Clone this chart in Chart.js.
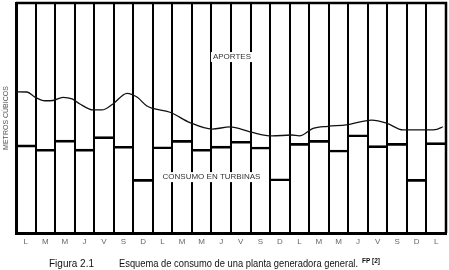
<!DOCTYPE html>
<html>
<head>
<meta charset="utf-8">
<script src="https://cdn.jsdelivr.net/npm/chart.js@4"></script>
<style>
  html, body { margin: 0; padding: 0; background: #fff; }
  #wrap { width: 449px; height: 270px; }
</style>
</head>
<body>
<div id="wrap"><canvas id="c" width="449" height="270"></canvas></div>
<script>
const days = ["L", "M", "M", "J", "V", "S", "D", "L", "M", "M", "J", "V", "S", "D",
  "L", "M", "M", "J", "V", "S", "D", "L"];
const consumo = [38.3, 36.4, 40.4, 36.5, 41.9, 37.7, 23.3, 37.5, 40.3, 36.4, 37.8,
  39.9, 37.4, 23.6, 39.0, 40.3, 36.1, 42.7, 38.0, 39.0, 23.3, 39.3];

// aportes curve, x in day units (0..22)
const aportesX = [0, 0.56, 0.97, 1.48, 1.89, 2.4, 2.87, 3.27, 3.94, 4.4, 4.96, 5.68,
  6.19, 6.7, 7.0, 7.88, 8.9, 10.03, 10.95, 11.97, 13.1, 14.1, 14.5, 15.2, 15.96,
  16.9, 18.2, 18.98, 19.8, 21.03, 21.54, 21.85];
const aportesY = [61.4, 61.3, 59.1, 57.5, 57.6, 59.0, 58.3, 56.1, 53.5, 53.5, 56.1,
  60.7, 59.1, 55.2, 54.2, 52.5, 48.0, 45.2, 46.1, 44.0, 42.2, 42.6, 42.2, 45.5,
  46.4, 47.0, 49.1, 47.7, 44.8, 44.8, 45.1, 46.2];

const aportes = aportesX.map((x, i) => ({ x: x, y: aportesY[i] }));

const frame = {
  id: "frame",
  afterDraw(chart) {
    const { ctx, chartArea: a, scales } = chart;
    ctx.save();
    // top and right border of the plot
    ctx.strokeStyle = "#000";
    ctx.lineWidth = 2.5;
    ctx.beginPath();
    ctx.moveTo(a.left, a.top);
    ctx.lineTo(a.right, a.top);
    ctx.lineTo(a.right, a.bottom);
    ctx.stroke();

    // labels with white box
    const label = (text, xv, yv, font) => {
      ctx.font = font;
      const w = ctx.measureText(text).width;
      const px = scales.xl.getPixelForValue(xv);
      const py = scales.y.getPixelForValue(yv);
      ctx.fillStyle = "#fff";
      ctx.fillRect(px - w / 2 - 2, py - 5, w + 4, 10);
      ctx.fillStyle = "#333";
      ctx.textAlign = "center";
      ctx.textBaseline = "middle";
      ctx.fillText(text, px, py);
    };
    label("APORTES", 11.05, 76.5, "8px 'Liberation Sans'");
    label("CONSUMO EN TURBINAS", 10.0, 24.3, "8px 'Liberation Sans'");

    // caption, squeezed to the widths of the original
    const squeeze = (text, x, y, w, font) => {
      ctx.font = font;
      const sx = w / ctx.measureText(text).width;
      ctx.save();
      ctx.translate(x, y);
      ctx.scale(sx, 1);
      ctx.fillText(text, 0, 0);
      ctx.restore();
    };
    ctx.fillStyle = "#111";
    ctx.textAlign = "left";
    ctx.textBaseline = "alphabetic";
    squeeze("Figura 2.1", 49, 267, 45, "10.5px 'Liberation Sans'");
    squeeze("Esquema de consumo de una planta generadora general.", 119, 267, 239, "10.5px 'Liberation Sans'");
    squeeze("FP [2]", 362, 263, 18, "bold 7px 'Liberation Sans'");
    ctx.restore();
  }
};

new Chart(document.getElementById("c").getContext("2d"), {
  type: "bar",
  data: {
    labels: days,
    datasets: [
      {
        type: "line",
        data: aportes,
        xAxisID: "xl",
        borderColor: "#111",
        borderWidth: 1.3,
        pointRadius: 0,
        cubicInterpolationMode: "monotone",
        fill: false,
      },
      {
        data: consumo,
        xAxisID: "x",
        backgroundColor: "rgba(255,255,255,0)",
        borderColor: "#000",
        borderWidth: { top: 2, left: 0, right: 0, bottom: 0 },
        borderSkipped: false,
        grouped: false,
        barPercentage: 1,
        categoryPercentage: 1,
      },
    ],
  },
  options: {
    responsive: false,
    animation: false,
    layout: { padding: { left: 2, top: 3, right: 3, bottom: 20 } },
    plugins: { legend: { display: false }, tooltip: { enabled: false } },
    scales: {
      x: {
        type: "category",
        offset: true,
        grid: { offset: true, color: "#000", lineWidth: 2, drawTicks: false },
        border: { display: true, color: "#000", width: 3 },
        ticks: {
          color: "#666",
          font: { size: 8, family: "'Liberation Sans'" },
          padding: 4,
          maxRotation: 0,
          autoSkip: false,
        },
        afterFit: (s) => { s.height = 17; },
      },
      xl: { type: "linear", min: 0, max: 22, offset: false, display: false },
      y: {
        min: 0,
        max: 100,
        grid: { display: false },
        border: { display: true, color: "#000", width: 3 },
        ticks: { display: false },
        title: {
          display: true,
          text: "METROS CÚBICOS",
          color: "#555",
          font: { size: 7, family: "'Liberation Sans'" },
          padding: 0,
        },
        afterFit: (s) => { s.width = 14; },
      },
    },
  },
  plugins: [frame],
});
</script>
</body>
</html>
